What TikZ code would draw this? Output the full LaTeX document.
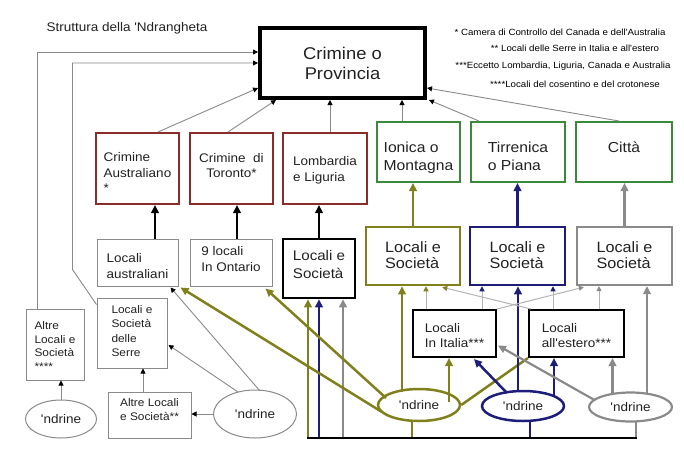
\documentclass[tikz,border=0pt]{standalone}
\usepackage{fontspec}
\setmainfont{Liberation Sans}[FakeStretch=1.08, Ligatures=TeXOff]
\usetikzlibrary{arrows.meta,calc,shapes.geometric}
\definecolor{dred}{HTML}{8B2C2C}
\definecolor{dgreen}{HTML}{3A8A3A}
\definecolor{olv}{HTML}{80801C}
\definecolor{nvy}{HTML}{1E1E78}
\definecolor{gry}{HTML}{8A8A8A}
\definecolor{lgry}{HTML}{B4B4B4}
\definecolor{txt}{HTML}{222222}
\newcommand{\myfs}[2]{\fontsize{#1}{#2}\selectfont}
\newcommand{\mytl}[2]{\raisebox{#1pt}[\height][\depth]{\begin{tabular}{@{}l@{}}#2\end{tabular}}}
\newcommand{\mytc}[2]{\raisebox{#1pt}[\height][\depth]{\begin{tabular}{@{}c@{}}#2\end{tabular}}}
\begin{document}
\begin{tikzpicture}[x=1pt,y=-1pt,
  bx/.style={draw, rectangle, inner sep=0pt, text=txt},
  redbox/.style={bx, draw=dred, line width=2pt, font=\myfs{12.5}{15.5}},
  grnbox/.style={bx, draw=dgreen, line width=2pt, font=\myfs{14.5}{18}},
  gbox/.style={bx, draw=gry, line width=1pt},
  elp/.style={draw, ellipse, inner sep=0pt, text=txt, font=\myfs{12.5}{15}},
  legd/.style={text=black, font=\myfs{9}{10}},
  gcon/.style={draw=gry, line width=0.9pt, -{Triangle[length=5pt,width=5pt,color=black]}},
  bigtip/.style={-{Triangle[length=8pt,width=7.5pt]}},
  blkarr/.style={draw=black, line width=2.5pt, bigtip},
  oarr/.style={draw=olv, line width=2.5pt, bigtip},
  barr/.style={draw=nvy, line width=2.5pt, bigtip},
  garr/.style={draw=gry, line width=2.2pt, bigtip},
  lcono/.style={draw=lgry, line width=1pt, -{Triangle[length=5pt,width=5pt,color=olv]}},
  lconb/.style={draw=lgry, line width=1pt, -{Triangle[length=5pt,width=5pt,color=nvy]}},
  lcong/.style={draw=lgry, line width=1pt, -{Triangle[length=5pt,width=5pt,color=gry]}}
]
\fill[white] (0,0) rectangle (684,460);
\useasboundingbox (0,0) rectangle (684,460);

% title and legend
\node[anchor=west, text=txt, font=\myfs{12.5}{15}] (title) at (43,28) {Struttura della 'Ndrangheta};
\node[legd] (leg1) at (560,32) {* Camera di Controllo del Canada e dell'Australia};
\node[legd] (leg2) at (575,48) {** Locali delle Serre in Italia e all'estero};
\node[legd] (leg3) at (563,66) {***Eccetto Lombardia, Liguria, Canada e Australia};
\node[legd] (leg4) at (575,84) {****Locali del cosentino e del crotonese};

% top
\node[bx, line width=4pt, minimum width=165pt, minimum height=70pt, font=\myfs{17}{20}] (prov) at (342.5,63) {\mytc{-3}{Crimine o\\Provincia}};

% second row
\node[redbox, minimum width=83pt, minimum height=71pt] (ca) at (137.5,168.5) {\mytl{-5.5}{Crimine\\Australiano\\{}*}};
\node[redbox, minimum width=83pt, minimum height=71pt] (ct) at (231.5,168.5) {\mytc{-6}{Crimine\ \ di\\Toronto*\\~}};
\node[redbox, minimum width=84pt, minimum height=71pt, font=\myfs{12.5}{16.5}] (lomb) at (325,168.5) {\mytl{-1.5}{Lombardia\\e Liguria}};
\node[grnbox, minimum width=83pt, minimum height=60pt] (ion) at (418.5,152) {\mytl{-5.4}{Ionica o\\Montagna}};
\node[grnbox, minimum width=94pt, minimum height=60pt] (tir) at (518,152) {\mytl{-5.4}{Tirrenica\\o Piana}};
\node[grnbox, minimum width=96pt, minimum height=60pt] (cit) at (624,152) {\mytl{3.6}{Città}};

% third row
\node[gbox, minimum width=81pt, minimum height=47pt, font=\myfs{12.5}{16}] (la) at (137.5,262.5) {\mytl{-4.3}{Locali\\australiani}};
\node[gbox, minimum width=82pt, minimum height=47pt, font=\myfs{12.5}{16.5}] (ont) at (231,262.5) {\mytl{2.5}{9 locali\\In Ontario}};
\node[bx, line width=2.5pt, minimum width=72pt, minimum height=59pt, font=\myfs{14}{18}] (lb) at (319,268.5) {\mytl{3}{Locali e\\Società}};
\node[bx, draw=olv, line width=2.5pt, minimum width=94pt, minimum height=58pt, font=\myfs{15}{16.5}] (lo) at (413,256) {\mytl{-1}{Locali e\\Società}};
\node[bx, draw=nvy, line width=2.5pt, minimum width=95pt, minimum height=58pt, font=\myfs{15}{16.5}] (lbl) at (517.5,256) {\mytl{-1}{Locali e\\Società}};
\node[bx, draw=gry, line width=2.2pt, minimum width=95pt, minimum height=58pt, font=\myfs{15}{16.5}] (lg) at (624.5,256) {\mytl{-1}{Locali e\\Società}};

% fourth row
\node[bx, line width=2pt, minimum width=83pt, minimum height=47pt, font=\myfs{12.5}{15}] (it) at (454.5,333.5) {\mytl{-3}{Locali\\In Italia***}};
\node[bx, line width=2pt, minimum width=95pt, minimum height=47pt, font=\myfs{12.5}{15}] (est) at (576.5,333.5) {\mytl{-3}{Locali\\all'estero***}};

% left
\node[gbox, minimum width=58pt, minimum height=71pt, font=\myfs{11}{13.5}] (altre) at (55,344.5) {\mytl{-3}{Altre\\Locali e\\Società\\{}****}};
\node[gbox, minimum width=70pt, minimum height=70pt, font=\myfs{11}{14.5}] (serre) at (132,333) {\mytl{1}{Locali e\\Società\\delle\\Serre}};
\node[gbox, minimum width=83pt, minimum height=46pt, font=\myfs{11}{13.5}] (al2) at (149.5,415) {\mytl{4}{Altre Locali\\e Società**}};

% ellipses
\node[elp, draw=gry, line width=1pt, minimum width=71pt, minimum height=38pt] (nl) at (61,419) {'ndrine};
\node[elp, draw=gry, line width=1pt, minimum width=83pt, minimum height=48pt] (nm) at (255,414) {'ndrine};
\node[elp, draw=olv, line width=2.5pt, minimum width=82pt, minimum height=32pt] (ndo) at (419,405) {'ndrine};
\node[elp, draw=nvy, line width=2.5pt, minimum width=82pt, minimum height=30pt] (ndb) at (523,406) {'ndrine};
\node[elp, draw=gry, line width=2.2pt, minimum width=83pt, minimum height=29pt] (ndg) at (630.5,407) {'ndrine};

% connectors to Provincia
\draw[gcon] ($(altre.north west)+(12,0)$) |- ($(prov.west)+(0,-11)$);
\draw[gcon] ($(serre.north west)+(0,7)$) -- ($(serre.north west)+(-24,-28)$) |- (prov.west);
\draw[gcon] ($(ca.north)+(20.5,0)$) -- ($(prov.west)+(0,25)$);
\draw[gcon] ($(ct.north)+(-3.5,0)$) -- ($(prov.south west)+(18,0)$);
\draw[gcon] ($(lomb.north)+(5,0)$) -- ($(prov.south)+(-12.5,0)$);
\draw[gcon] ($(ion.north)+(-16.5,0)$) -- ($(prov.south)+(59.5,0)$);
\draw[gcon] ($(tir.north)+(-39,0)$) -- ($(prov.south east)+(2,0)$);
\draw[gcon] ($(cit.north)+(-5,0)$) -- ($(prov.east)+(0,25)$);

% row 3 to row 2
\draw[blkarr] ($(la.north)+(17.5,0)$) -- ($(ca.south)+(17.5,0)$);
\draw[blkarr] ($(ont.north)+(6,0)$) -- ($(ct.south)+(5.5,0)$);
\draw[blkarr] (lb.north) -- (lb.north |- lomb.south);
\draw[oarr] (lo.north) -- (lo.north |- ion.south);
\draw[barr] (lbl.north) -- (lbl.north |- tir.south);
\draw[garr] (lg.north) -- (lg.north |- cit.south);

% bus to Lombardia locali
\coordinate (busL) at (308,438);
\coordinate (busB) at (319,438);
\coordinate (busG) at (343,438);
\coordinate (busR) at (636,438);
\draw[oarr] (busL) -- (busL |- lb.south);
\draw[barr] (busB) -- (busB |- lb.south);
\draw[garr] (busG) -- (busG |- lb.south);
\coordinate (so) at ($(ndo.south)+(-7,-2)$);
\coordinate (sb) at ($(ndb.south)+(7,-2)$);
\coordinate (sg) at ($(ndg.south)+(5.5,-2)$);
\draw[olv, line width=2.5pt] (so) -- (so |- busL);
\draw[nvy, line width=2.5pt] (sb) -- (sb |- busL);
\draw[gry, line width=2.2pt] (sg) -- (sg |- busL);
\draw[black, line width=2.5pt] ($(busL)+(-1.25,0)$) -- ($(busR)+(1.1,0)$);

% olive 'ndrine
\coordinate (o1) at ($(ndo.center)+(-17,-13)$);
\draw[oarr] (o1) -- (o1 |- lo.south);
\coordinate (o2) at ($(ndo.center)+(30,-3)$);
\draw[oarr] (o2) -- (o2 |- it.south);
\draw[olv, line width=2.5pt] (ndo.east) -- (est.south west);
\draw[oarr] ($(ndo.center)+(-33,-7)$) -- ($(ont.south east)+(-7,2)$);
\draw[oarr] ($(ndo.center)+(-37,7)$) -- ($(la.south east)+(2,1)$);

% blue 'ndrine
\coordinate (b1) at ($(ndb.center)+(-5,-14)$);
\draw[barr] (b1) -- (b1 |- lbl.south);
\draw[barr] ($(ndb.center)+(-16,-13)$) -- ($(it.south east)+(-23,1)$);
\coordinate (b2) at ($(ndb.center)+(31,-10)$);
\draw[barr] (b2) -- (b2 |- est.south);

% gray 'ndrine
\draw[garr] ($(ndg.center)+(-36,-7)$) -- ($(it.east)+(1,12)$);
\coordinate (g1) at ($(ndg.center)+(-18,-13)$);
\draw[garr] (g1) -- (g1 |- est.south);
\coordinate (g2) at ($(ndg.center)+(16.5,-13)$);
\draw[garr] (g2) -- (g2 |- lg.south);

% from Locali in Italia / all'estero
\coordinate (i1) at ($(it.north west)+(14,0)$);
\draw[lcono] (i1) -- (i1 |- lo.south);
\coordinate (i2) at ($(it.north west)+(70,0)$);
\draw[lconb] (i2) -- (i2 |- lbl.south);
\draw[lcong] (it.north east) -- ($(lg.south west)+(8,1)$);
\draw[lcono] ($(est.north west)+(3,0)$) -- ($(lo.south east)+(-19,1)$);
\coordinate (e1) at ($(est.north west)+(25,0)$);
\draw[lconb] (e1) -- (e1 |- lbl.south);
\coordinate (e2) at ($(est.north west)+(71,0)$);
\draw[lcong] (e2) -- (e2 |- lg.south);

% left region
\draw[gcon] (nl.north) -- (nl.north |- altre.south);
\coordinate (a1) at ($(al2.north)+(-6.5,0)$);
\draw[gcon] (a1) -- (a1 |- serre.south);
\draw[gcon] (nm.west) -- (nm.west -| al2.east);
\draw[gcon] ($(nm.center)+(-17,-22)$) -- ($(serre.east)+(1,12)$);
\draw[gcon] ($(nm.center)+(5,-23)$) -- ($(la.south east)+(-8,1)$);
\end{tikzpicture}
\end{document}
